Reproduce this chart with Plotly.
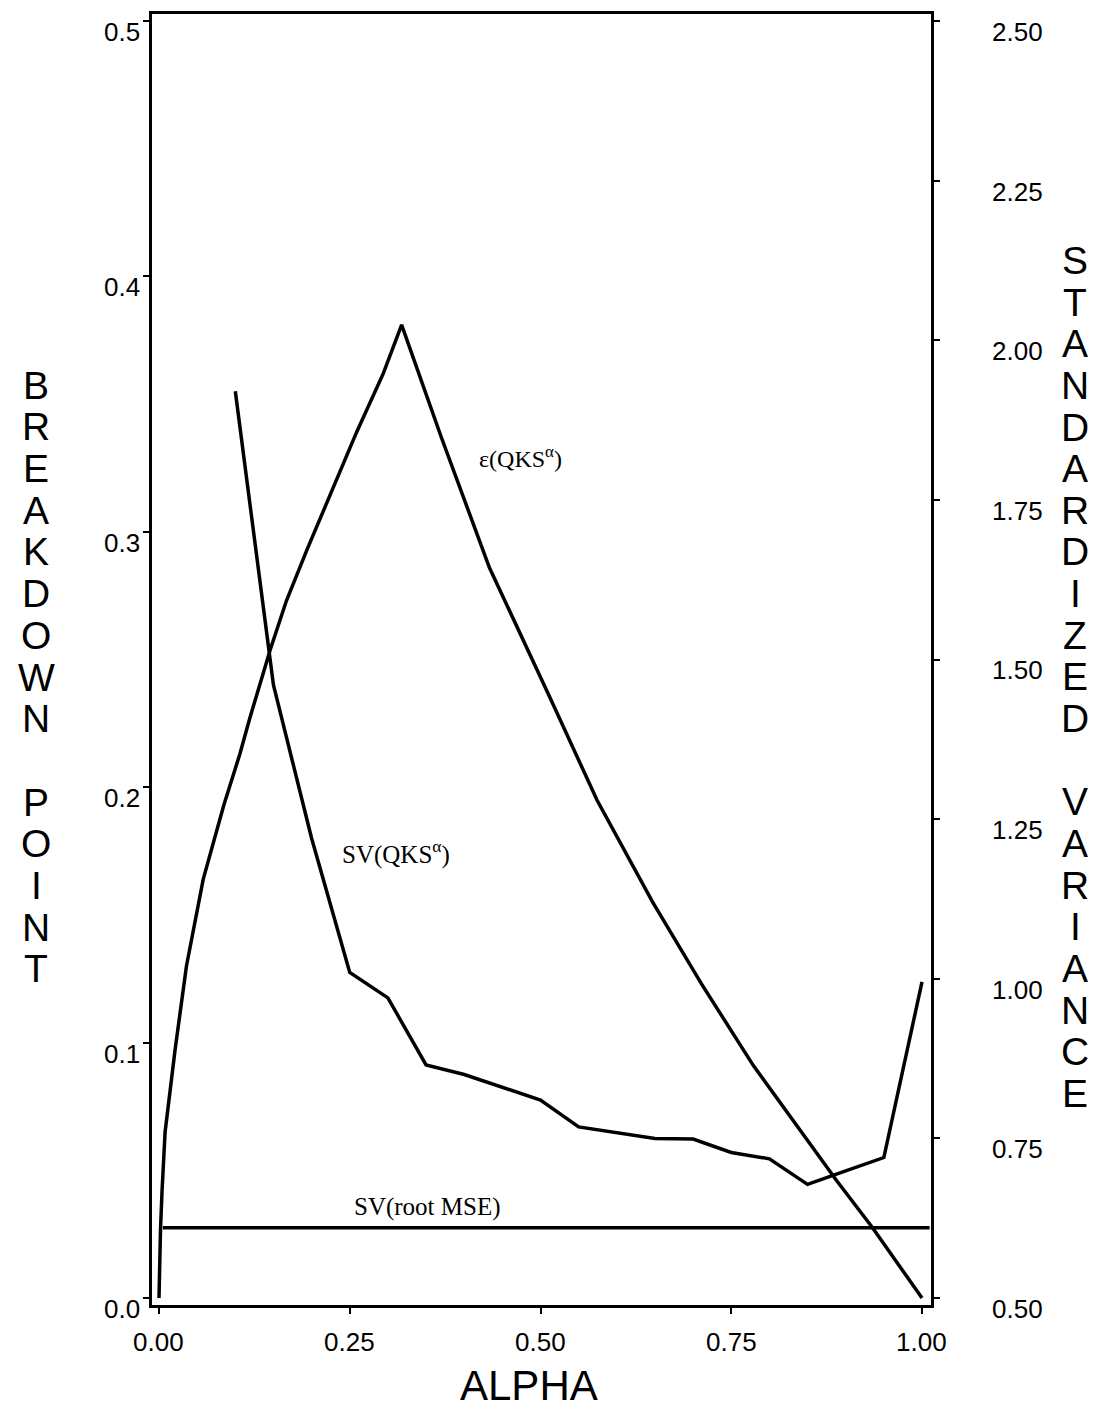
import plotly.graph_objects as go

# ---- data ----
eps_alpha = [0.0, 0.001, 0.002, 0.004, 0.0056, 0.008, 0.021, 0.036, 0.058, 0.085, 0.106, 0.119,
             0.146, 0.167, 0.194, 0.224, 0.259, 0.294, 0.318, 0.370, 0.433, 0.511, 0.574, 0.647,
             0.711, 0.779, 0.847, 0.888, 0.934, 1.0]
eps_bp = [0.0, 0.015, 0.027, 0.042, 0.054, 0.065, 0.097, 0.130, 0.164, 0.193, 0.213, 0.227,
          0.254, 0.273, 0.293, 0.314, 0.339, 0.362, 0.381, 0.337, 0.286, 0.236, 0.195, 0.155,
          0.123, 0.091, 0.063, 0.046, 0.028, 0.0]

sv_alpha = [0.10, 0.15, 0.20, 0.25, 0.30, 0.35, 0.40, 0.45, 0.50, 0.55, 0.60, 0.65, 0.70,
            0.75, 0.80, 0.85, 0.90, 0.95, 1.00]
sv_qks = [1.92, 1.46, 1.22, 1.01, 0.97, 0.865, 0.85, 0.83, 0.81, 0.768, 0.759, 0.75, 0.749,
          0.728, 0.718, 0.678, 0.699, 0.72, 0.995]

mse_alpha = [0.005, 1.01]
sv_mse = [0.61, 0.61]

x_ticks = [0.0, 0.25, 0.5, 0.75, 1.0]
y_ticks = [0.0, 0.1, 0.2, 0.3, 0.4, 0.5]
y2_ticks = [0.5, 0.75, 1.0, 1.25, 1.5, 1.75, 2.0, 2.25, 2.5]

left_title = "BREAKDOWN POINT"
right_title = "STANDARDIZED VARIANCE"
x_title = "ALPHA"

# ---- layout geometry (pixels) ----
W, H = 1102, 1416
L, R, T, B = 152, 931, 11, 1305
PW, PH = R - L, B - T
XR = [-0.00917, 1.0118]
YR = [-0.00273, 0.50273]
Y2R = [0.48906, 2.51094]

def px_x(px):
    return (px - L) / PW

def px_y(py):
    return (B - py) / PH

def data_to_px_y(v, rng):
    return B - (v - rng[0]) / (rng[1] - rng[0]) * PH

SANS = "Liberation Sans"
SERIF = "Liberation Serif"
LW = 3.5

fig = go.Figure()
fig.add_trace(go.Scatter(x=eps_alpha, y=eps_bp, mode="lines",
                         line=dict(color="black", width=LW), yaxis="y"))
fig.add_trace(go.Scatter(x=sv_alpha, y=sv_qks, mode="lines",
                         line=dict(color="black", width=LW), yaxis="y2"))
fig.add_trace(go.Scatter(x=mse_alpha, y=sv_mse, mode="lines",
                         line=dict(color="black", width=LW), yaxis="y2"))

common = dict(showgrid=False, zeroline=False, showline=True, linecolor="black",
              linewidth=3, ticks="outside", ticklen=6, tickwidth=2, tickcolor="black",
              showticklabels=False)

fig.update_layout(
    width=W, height=H,
    margin=dict(l=L, r=W - R, t=T, b=H - B, pad=0),
    paper_bgcolor="white", plot_bgcolor="white",
    showlegend=False,
    xaxis=dict(range=XR, tickvals=x_ticks, mirror=True, **common),
    yaxis=dict(range=YR, tickvals=y_ticks, **common),
    yaxis2=dict(range=Y2R, tickvals=y2_ticks, overlaying="y", side="right", **common),
)

annos = []
tickfont = dict(family=SANS, size=26, color="black")
# tick labels (offset slightly below the tick, as in the reference)
for v in y_ticks:
    annos.append(dict(text=f"{v:.1f}", x=px_x(142), y=px_y(data_to_px_y(v, YR) + 11),
                      xref="paper", yref="paper", showarrow=False, font=tickfont,
                      xanchor="right", yanchor="middle"))
for v in y2_ticks:
    annos.append(dict(text=f"{v:.2f}", x=px_x(990), y=px_y(data_to_px_y(v, Y2R) + 11),
                      xref="paper", yref="paper", showarrow=False, font=tickfont,
                      xanchor="left", yanchor="middle"))
for v in x_ticks:
    xp = L + (v - XR[0]) / (XR[1] - XR[0]) * PW
    annos.append(dict(text=f"{v:.2f}", x=px_x(xp), y=px_y(1342),
                      xref="paper", yref="paper", showarrow=False, font=tickfont,
                      xanchor="center", yanchor="middle"))

# curve labels
annos.append(dict(text="ε(QKS<sup>α</sup>)", x=px_x(520), y=px_y(455), xref="paper", yref="paper",
                  showarrow=False, font=dict(family=SERIF, size=24, color="black"),
                  xanchor="center", yanchor="middle"))
annos.append(dict(text="SV(QKS<sup>α</sup>)", x=px_x(396), y=px_y(851), xref="paper", yref="paper",
                  showarrow=False, font=dict(family=SERIF, size=25, color="black"),
                  xanchor="center", yanchor="middle"))
annos.append(dict(text="SV(root MSE)", x=px_x(427), y=px_y(1207), xref="paper", yref="paper",
                  showarrow=False, font=dict(family=SERIF, size=25, color="black"),
                  xanchor="center", yanchor="middle"))

# stacked vertical titles
title_font = dict(family=SANS, size=39, color="black")
for i, ch in enumerate(left_title):
    if ch == " ":
        continue
    annos.append(dict(text=ch, x=px_x(36), y=px_y(383 + 41.8 * i), xref="paper", yref="paper",
                      showarrow=False, font=title_font, xanchor="center", yanchor="middle"))
for i, ch in enumerate(right_title):
    if ch == " ":
        continue
    annos.append(dict(text=ch, x=px_x(1075), y=px_y(258 + 41.75 * i), xref="paper", yref="paper",
                      showarrow=False, font=title_font, xanchor="center", yanchor="middle"))

annos.append(dict(text=x_title, x=px_x(529), y=px_y(1386), xref="paper", yref="paper",
                  showarrow=False, font=dict(family=SANS, size=42, color="black"),
                  xanchor="center", yanchor="middle"))

fig.update_layout(annotations=annos)
fig.write_html("out.html")
